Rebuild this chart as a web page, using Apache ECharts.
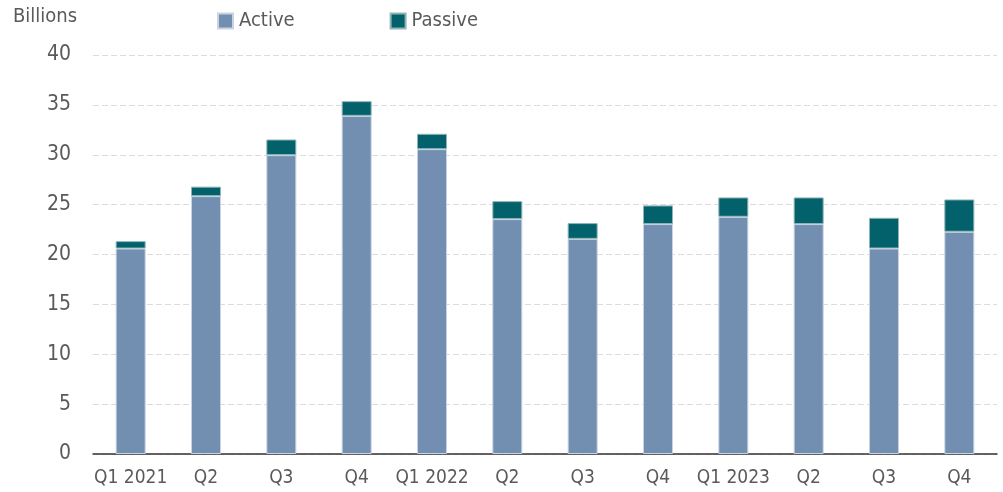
<!DOCTYPE html>
<html>
<head>
<meta charset="utf-8">
<script src="https://cdn.jsdelivr.net/npm/echarts@6/dist/echarts.min.js"></script>
<style>
  html, body { margin: 0; padding: 0; background: #fff; }
  #chart { width: 1003px; height: 492px; }
</style>
</head>
<body>
<div id="chart"></div>
<script>
const categories = ['Q1 2021', 'Q2', 'Q3', 'Q4', 'Q1 2022', 'Q2', 'Q3', 'Q4', 'Q1 2023', 'Q2', 'Q3', 'Q4']
const activeData = [20.6, 25.85, 29.96, 33.9, 30.56, 23.55, 21.57, 23.05, 23.78, 23.05, 20.6, 22.28]
const passiveData = [0.74, 0.95, 1.57, 1.47, 1.54, 1.8, 1.58, 1.87, 1.94, 2.67, 3.08, 3.24]

const font = '"Liberation Sans Narrow", "DejaVu Sans Condensed", "Roboto", sans-serif'
const textColor = '#5a5a5a'

const chart = echarts.init(document.getElementById('chart'))

chart.setOption({
  animation: false,
  textStyle: { fontFamily: font },
  legend: {
    top: 6,
    left: 212,
    itemGap: 95,
    itemWidth: 15,
    itemHeight: 15,
    icon: 'rect',
    textStyle: { fontFamily: font, fontSize: 20, color: textColor, padding: [0, 0, 0, 1] },
    data: ['Active', 'Passive']
  },
  grid: {
    top: 55,
    left: 93,
    right: 6,
    bottom: 38
  },
  xAxis: {
    type: 'category',
    data: categories,
    axisTick: { show: false },
    axisLine: { lineStyle: { color: '#333', width: 1.5 } },
    axisLabel: {
      interval: 0,
      fontFamily: font,
      fontSize: 19,
      color: textColor,
      margin: 15
    }
  },
  yAxis: {
    type: 'value',
    min: 0,
    max: 40,
    interval: 5,
    name: 'Billions',
    nameLocation: 'end',
    nameGap: 28,
    nameTextStyle: {
      fontFamily: font,
      fontSize: 20,
      color: textColor,
      align: 'left',
      padding: [0, 0, 0, -80]
    },
    axisLine: { show: false },
    axisTick: { show: false },
    axisLabel: {
      fontFamily: font,
      fontSize: 21,
      color: textColor,
      margin: 22
    },
    splitLine: { lineStyle: { color: '#dcdcdc', type: [6, 3], width: 1 } }
  },
  series: [
    {
      name: 'Active',
      type: 'bar',
      stack: 'total',
      barWidth: 30,
      data: activeData,
      itemStyle: { color: '#728fb2', borderColor: '#c9d4e0', borderWidth: 1 }
    },
    {
      name: 'Passive',
      type: 'bar',
      stack: 'total',
      barWidth: 30,
      data: passiveData,
      itemStyle: { color: '#02616a', borderColor: '#8fb5b8', borderWidth: 1 }
    }
  ]
})
</script>
</body>
</html>
